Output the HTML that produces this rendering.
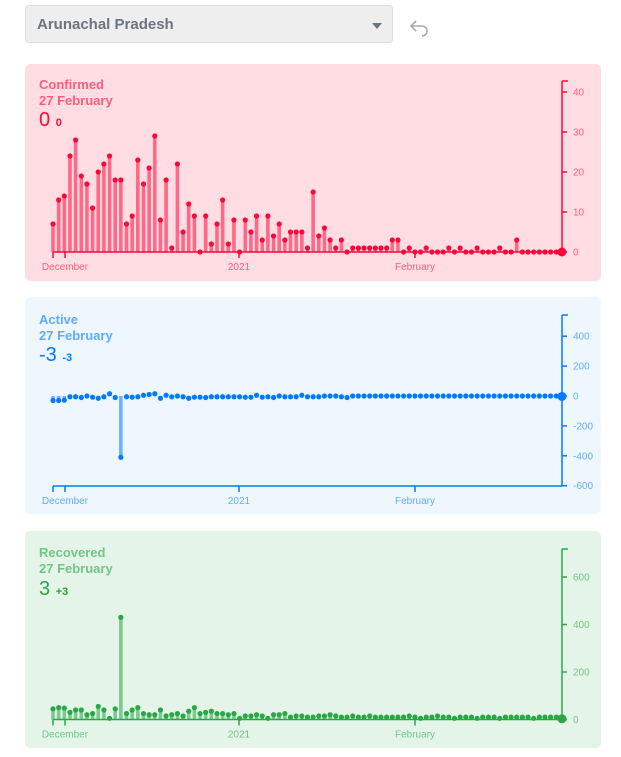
<!DOCTYPE html>
<html><head><meta charset="utf-8"><style>
body{margin:0;width:621px;height:757px;background:#fff;font-family:"Liberation Sans",sans-serif;position:relative;overflow:hidden}
.dd{position:absolute;left:25px;top:5px;width:368px;height:38px;background:#eee;border:1px solid #ddd;border-radius:4px;box-sizing:border-box}
.dd span{position:absolute;left:11px;top:10px;font-size:15px;font-weight:bold;color:#6c757d}
.dd i{position:absolute;right:10px;top:17px;border-left:5px solid transparent;border-right:5px solid transparent;border-top:6px solid #6c757d}
.card{position:absolute;left:25px;width:576px;height:217px;border-radius:5px}
.t{position:absolute;left:14px;font-weight:bold;font-size:13px}
svg{position:absolute;left:0;top:0}
</style></head><body>
<div class="dd"><span>Arunachal Pradesh</span><i></i></div>
<svg width="621" height="60" style="position:absolute"><path d="M412 26 h10 a5 5 0 0 1 0 10" fill="none" stroke="#aaa" stroke-width="1.6"/><path d="M416 21 l-5 5 l5 5" fill="none" stroke="#aaa" stroke-width="1.6"/></svg>

<div class="card" style="top:64px;background:#ffdde3"></div>
<div class="card" style="top:297px;background:#eef6fe"></div>
<div class="card" style="top:531px;background:#e4f4e8"></div>

<div style="position:absolute;left:25px;top:64px;color:#ff073a;opacity:.6" class="t"><div style="position:absolute;left:14px;top:13px;white-space:nowrap;line-height:16px">Confirmed<br>27 February</div></div>
<div style="position:absolute;left:39px;top:109px;color:#ff073a;font-size:20px">0 <span style="font-size:11px;font-weight:bold">0</span></div>

<div style="position:absolute;left:39px;top:312px;color:#007bff;opacity:.6;font-weight:bold;font-size:13px;line-height:16px">Active<br>27 February</div>
<div style="position:absolute;left:39px;top:344px;color:#007bff;font-size:20px">-3 <span style="font-size:11px;font-weight:bold">-3</span></div>

<div style="position:absolute;left:39px;top:545px;color:#28a745;opacity:.6;font-weight:bold;font-size:13px;line-height:16px">Recovered<br>27 February</div>
<div style="position:absolute;left:39px;top:578px;color:#28a745;font-size:20px">3 <span style="font-size:11px;font-weight:bold">+3</span></div>

<svg id="s" width="621" height="757"></svg>
<script>
var N=91,x0=53,dx=5.655;
var conf=[7,13,14,24,28,19,17,11,20,22,24,18,18,7,9,23,17,21,29,8,18,1,22,5,12,9,0,9,2,7,13,2,8,0,8,5,9,3,9,4,7,3,5,5,5,1,15,4,6,3,1,3,0,1,1,1,1,1,1,1,3,3,0,1,0,0,1,0,0,0,1,0,1,0,0,1,0,0,0,1,0,0,3,0,0,0,0,0,0,0,0];
var act=[-30,-30,-28,-5,-5,-10,0,-8,-15,-5,15,-10,-410,-5,-8,-5,5,10,15,-15,5,-5,0,-5,-15,-8,-8,-10,-5,-5,-5,-5,-5,-5,-8,-8,5,-8,-5,-10,0,-5,-5,-5,5,-5,-5,-5,0,0,0,-5,-10,0,0,0,0,0,0,0,0,0,0,0,0,0,0,0,0,0,0,0,0,0,0,0,0,0,0,0,0,0,0,0,0,0,0,0,0,0,-3];
var rec=[45,50,48,30,40,40,20,25,55,40,5,45,430,25,40,50,25,20,20,40,15,20,25,15,35,50,25,30,35,25,25,20,25,5,15,15,20,15,5,20,20,25,10,15,15,10,10,15,15,20,15,10,10,15,10,10,15,10,10,10,10,10,10,15,10,5,10,10,15,10,10,5,10,10,10,5,10,10,10,5,10,10,10,10,10,5,10,10,10,10,3];
var h='';
function chart(d,col,y0,sc,top,bot,ticks,lab){
 for(var i=0;i<N;i++){var x=x0+i*dx,y=y0-d[i]*sc;
  h+='<line x1="'+x+'" x2="'+x+'" y1="'+y0+'" y2="'+y+'" stroke="'+col+'" stroke-opacity=".55" stroke-width="3.6"/>';
  h+='<circle cx="'+x+'" cy="'+y+'" r="'+(i==N-1?4.5:2.6)+'" fill="'+col+'"/>';}
 h+='<line x1="'+x0+'" x2="562" y1="'+bot+'" y2="'+bot+'" stroke="'+col+'" stroke-width="1.5"/>';
 h+='<path d="M'+x0+' '+bot+'v6M65 '+bot+'v6M239 '+bot+'v6M415 '+bot+'v6" stroke="'+col+'" stroke-width="1.5"/>';
 h+='<line x1="562" x2="562" y1="'+top+'" y2="'+bot+'" stroke="'+col+'" stroke-width="1.5"/><line x1="562" x2="568" y1="'+top+'" y2="'+top+'" stroke="'+col+'" stroke-width="1.5"/>';
 ticks.forEach(function(v){var y=y0-v*sc;h+='<line x1="562" x2="567" y1="'+y+'" y2="'+y+'" stroke="'+col+'" stroke-width="1.5"/><text x="573" y="'+(y+3.5)+'" font-size="10" fill="'+col+'" fill-opacity=".6">'+v+'</text>';});
 [['December',65],['2021',239],['February',415]].forEach(function(a){h+='<text x="'+a[1]+'" y="'+(bot+18)+'" text-anchor="middle" font-size="10" fill="'+col+'" fill-opacity=".6">'+a[0]+'</text>';});
}
chart(conf,'#ff073a',252,4,81,252,[0,10,20,30,40]);
chart(act,'#007bff',396,0.1495,315,486,[400,200,0,-200,-400,-600]);
chart(rec,'#28a745',719.5,0.2375,549,719.5,[0,200,400,600]);
document.getElementById('s').innerHTML=h;
</script>
</body></html>
